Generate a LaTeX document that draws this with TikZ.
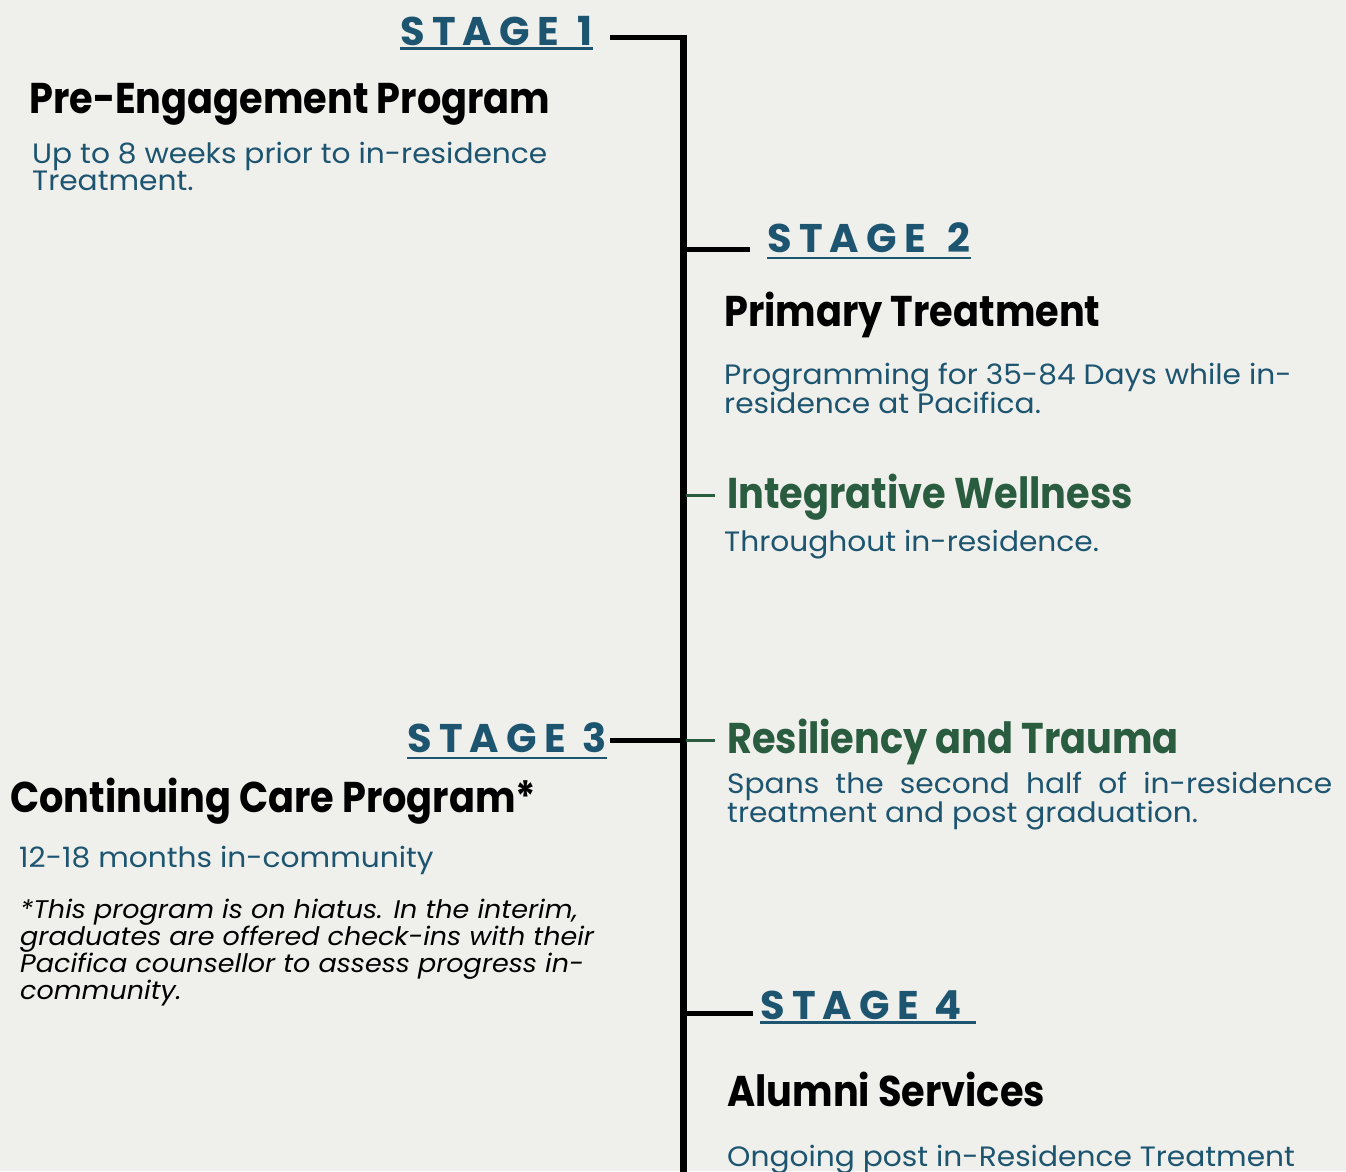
\documentclass[tikz,border=0pt]{standalone}
\usepackage{fontspec}
\setmainfont{Poppins}
\newfontfamily\stagefont{Poppins}[LetterSpace=18]
\newfontfamily\headfont{Poppins}[FakeStretch=0.89]
\newfontfamily\bodyfont{Poppins}[FakeStretch=1.06]
\definecolor{bgpaper}{HTML}{EFEFEB}
\definecolor{stageblue}{HTML}{1D5570}
\definecolor{wellgreen}{HTML}{2A5C40}
% text block whose reference point is the baseline of its first line
\newcommand{\lines}[1]{\begin{tabular}[t]{@{}l@{}}#1\end{tabular}}
\tikzset{
  stagelabel/.style={anchor=base west, inner sep=0pt, text=stageblue,
    font=\stagefont\bfseries\fontsize{40}{40}\selectfont},
  heading/.style={anchor=base west, inner sep=0pt, text=black,
    font=\headfont\bfseries\fontsize{43}{46}\selectfont},
  greenheading/.style={heading, text=wellgreen},
  detail/.style={anchor=base west, inner sep=0pt, text=stageblue,
    font=\bodyfont\fontsize{28}{27.5}\selectfont},
  footnote/.style={anchor=base west, inner sep=0pt, text=black,
    font=\bodyfont\itshape\fontsize{25.5}{26}\selectfont},
  spine/.style={line width=7pt},
  branch/.style={line width=5pt},
  twig/.style={line width=3pt, draw=wellgreen},
  rule/.style={line width=2.5pt, draw=stageblue}
}
\begin{document}
\begin{tikzpicture}[x=1pt,y=-1pt]
  \fill[bgpaper] (0,0) rectangle (1346,1171);
  \useasboundingbox (0,0) rectangle (1346,1171);

  % junction points on the timeline
  \coordinate (top) at (683,34.5);
  \coordinate (bottom) at (683,1175);
  \coordinate (j1) at (683,37);
  \coordinate (j2) at (683,249);
  \coordinate (jw) at (686,495);
  \coordinate (j3) at (683,740);
  \coordinate (jr) at (686,740);
  \coordinate (j4) at (683,1013);
  \coordinate (e1) at (610,37);
  \coordinate (e2) at (750,249);
  \coordinate (ew) at (715,495);
  \coordinate (e3) at (610,740);
  \coordinate (er) at (715,740);
  \coordinate (e4) at (753,1013);

  % stage 1
  \node[stagelabel] (s1) at (400,45) {STAGE\hspace{3pt} 1};
  \node[heading] (h1) at (29,113) {Pre-Engagement Program};
  \node[detail] (d1) at (32,163) {\lines{Up to 8 weeks prior to in-residence\\Treatment.}};

  % stage 2
  \node[stagelabel] (s2) at (767,252) {STAGE\hspace{6pt} 2};
  \node[heading] (h2) at (724,326) {Primary Treatment};
  \node[detail] (d2) at (724,384) {\lines{Programming for 35-84 Days while in-\\residence at Pacifica.}};
  \node[greenheading] (hw) at (727,508) {Integrative Wellness};
  \node[detail] (dw) at (724,551) {Throughout in-residence.};

  % stage 3
  \node[stagelabel] (s3) at (407,752) {STAGE\hspace{1pt} 3};
  \node[heading] (h3) at (10,812) {Continuing Care Program*};
  \node[detail] (d3) at (19,867) {12-18 months in-community};
  \node[footnote] (n3) at (20,918) {\lines{*This program is on hiatus. In the interim,\\graduates are offered check-ins with their\\Pacifica counsellor to assess progress in-\\community.}};
  \node[greenheading] (hr) at (727,753) {Resiliency and Trauma};
  \node[detail] (dr) at (727,793) {\lines{\makebox[605pt][s]{Spans the second half of in-residence}\\treatment and post graduation.}};

  % stage 4
  \node[stagelabel] (s4) at (760,1019) {STAGE 4};
  \node[heading] (h4) at (727,1106) {Alumni Services};
  \node[detail] (d4) at (727,1166) {Ongoing post in-Residence Treatment};

  % underlines of the stage labels
  \draw[rule] ([yshift=-3.5pt]s1.base west) -- ([yshift=-3.5pt]s1.base east);
  \draw[rule] ([yshift=-6pt]s2.base west) -- ([yshift=-6pt]s2.base east);
  \draw[rule] ([yshift=-6pt]s3.base west) -- ([yshift=-6pt]s3.base east);
  \draw[rule] ([yshift=-3.5pt]s4.base west) -- ([yshift=-3.5pt,xshift=14pt]s4.base east);

  % timeline
  \draw[spine] (top) -- (bottom);
  \draw[branch] (e1) -- (j1);
  \draw[branch] (j2) -- (e2);
  \draw[branch] (e3) -- (j3);
  \draw[branch] (j4) -- (e4);
  \draw[twig] (jw) -- (ew);
  \draw[twig] (jr) -- (er);
\end{tikzpicture}
\end{document}
